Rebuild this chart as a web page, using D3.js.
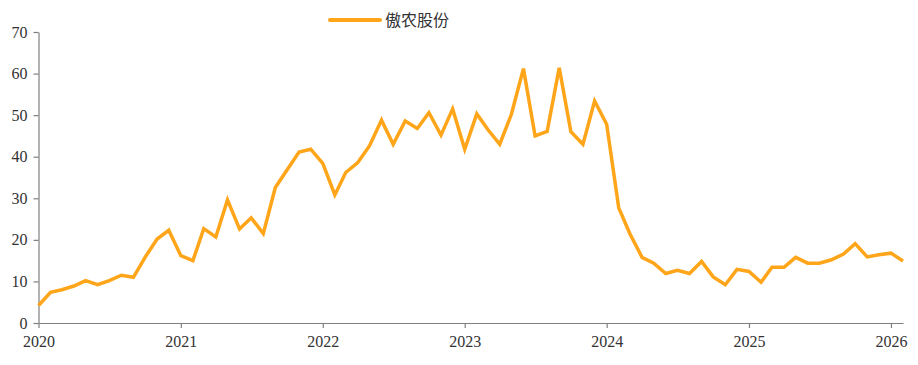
<!DOCTYPE html>
<html>
<head>
<meta charset="utf-8">
<script src="https://cdn.jsdelivr.net/npm/d3@7"></script>
<style>
  body { margin: 0; background: #fff; }
  svg { display: block; }
</style>
</head>
<body>
<div id="chart"></div>
<script>
// monthly values, Jan 2020 .. Feb 2026
const seriesName = '傲农股份';
const startMonth = '2020-01';
const values = [
  4.2, 7.4, 8.0, 8.9, 10.2, 9.2, 10.2, 11.5, 11.0, 15.8, 20.2, 22.3,
  16.2, 15.0, 22.7, 20.7, 29.6, 22.6, 25.3, 21.5, 32.6, 36.8, 41.1, 41.8,
  38.4, 30.8, 36.2, 38.6, 42.6, 48.8, 43.0, 48.6, 46.8, 50.6, 45.2, 51.5,
  41.8, 50.3, 46.6, 43.0, 50.2, 61.2, 45.0, 46.1, 61.4, 46.0, 43.0, 53.4,
  47.8, 27.7, 21.4, 15.8, 14.4, 11.9, 12.7, 11.9, 14.8, 11.1, 9.2, 12.9,
  12.4, 9.8, 13.4, 13.4, 15.8, 14.4, 14.4, 15.2, 16.6, 19.1, 15.9, 16.4,
  16.8, 14.9
];
const yTicks = [0, 10, 20, 30, 40, 50, 60, 70];
const xTickYears = [2020, 2021, 2022, 2023, 2024, 2025, 2026];

const width = 918, height = 365;
const margin = { top: 32, right: 15, bottom: 42, left: 38.5 };

const parseMonth = d3.timeParse('%Y-%m');
const t0 = parseMonth(startMonth);
const data = values.map((v, i) => ({ date: d3.timeMonth.offset(t0, i), value: v }));

const svg = d3.select('#chart').append('svg')
    .attr('width', width)
    .attr('height', height);

const x = d3.scaleTime()
    .domain(d3.extent(data, d => d.date))
    .range([margin.left, width - margin.right]);

const y = d3.scaleLinear()
    .domain([0, 70])
    .range([height - margin.bottom, margin.top]);

const axisColor = '#7f7f7f';
const labelFont = '"Liberation Serif", "DejaVu Serif", serif';

// x axis
const xAxis = svg.append('g')
    .attr('transform', `translate(0,${y(0)})`)
    .call(d3.axisBottom(x)
        .tickValues(xTickYears.map(yr => new Date(yr, 0, 1)))
        .tickFormat(d3.timeFormat('%Y'))
        .tickSize(5)
        .tickSizeOuter(0)
        .tickPadding(8));

// y axis
const yAxis = svg.append('g')
    .attr('transform', `translate(${margin.left},0)`)
    .call(d3.axisLeft(y)
        .tickValues(yTicks)
        .tickSize(5)
        .tickSizeOuter(0)
        .tickPadding(6));

[xAxis, yAxis].forEach(g => {
  g.select('.domain').attr('stroke', axisColor).attr('stroke-width', 1.2);
  g.selectAll('.tick line').attr('stroke', axisColor).attr('stroke-width', 1.2);
  g.selectAll('.tick text')
      .attr('fill', '#333')
      .style('font-family', labelFont)
      .style('font-size', '16px');
});

// line
const line = d3.line()
    .x(d => x(d.date))
    .y(d => y(d.value));

svg.append('path')
    .datum(data)
    .attr('fill', 'none')
    .attr('stroke', '#FFA51A')
    .attr('stroke-width', 3.5)
    .attr('stroke-linejoin', 'miter')
    .attr('d', line);

// legend
const legend = svg.append('g').attr('transform', 'translate(330,20)');
legend.append('line')
    .attr('x1', 0).attr('x2', 50)
    .attr('y1', 0).attr('y2', 0)
    .attr('stroke', '#FFA51A')
    .attr('stroke-width', 4)
    .attr('stroke-linecap', 'round');
legend.append('text')
    .attr('x', 55)
    .attr('y', 0)
    .attr('dy', '0.35em')
    .attr('fill', '#333')
    .style('font-family', '"Noto Sans CJK SC", sans-serif')
    .style('font-size', '16px')
    .text(seriesName);
</script>
</body>
</html>
